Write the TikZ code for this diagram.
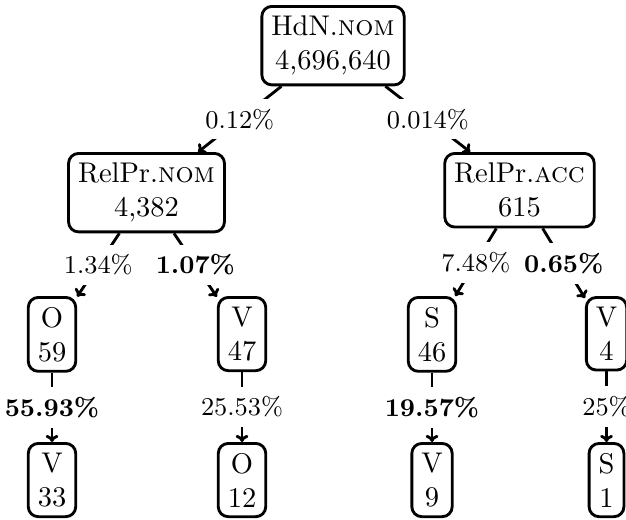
\documentclass[tikz,border=0pt]{standalone}
\usetikzlibrary{arrows.meta}
\begin{document}
\begin{tikzpicture}[x=0.351pt,y=-0.351pt,
  box/.style={draw,line width=1pt,rounded corners=3.5pt,align=center,inner sep=3.33pt,anchor=north},
  lbl/.style={fill=white,inner sep=3.5pt,font=\fontsize{9}{11}\selectfont},
  edge/.style={line width=1pt,-{To[length=2.5pt,width=4.5pt]}}]
\useasboundingbox (0,0) rectangle (626,519);
\node[box] (r) at (333,5) {HdN.\textsc{nom}\\4,696,640};
\node[box] (nom) at (146.5,152) {RelPr.\textsc{nom}\\4,382};
\node[box] (acc) at (519.5,152) {RelPr.\textsc{acc}\\615};
\node[box] (o1) at (52,296) {O\\59};
\node[box] (v1) at (242,296) {V\\47};
\node[box] (s1) at (432,296) {S\\46};
\node[box] (v2) at (606.5,296) {V\\4};
\node[box] (v3) at (52,442) {V\\33};
\node[box] (o2) at (242,442) {O\\12};
\node[box] (v4) at (432,442) {V\\9};
\node[box] (s2) at (606.5,442) {S\\1};
\draw[edge] (r) -- node[lbl]{0.12\%} (nom);
\draw[edge] (r) -- node[lbl]{0.014\%} (acc);
\draw[edge] (nom) -- node[lbl]{1.34\%} (o1);
\draw[edge] (nom) -- node[lbl]{\textbf{1.07\%}} (v1);
\draw[edge] (acc) -- node[lbl]{7.48\%} (s1);
\draw[edge] (acc) -- node[lbl]{\textbf{0.65\%}} (v2);
\draw[edge] (o1) -- node[lbl]{\textbf{55.93\%}} (v3);
\draw[edge] (v1) -- node[lbl]{25.53\%} (o2);
\draw[edge] (s1) -- node[lbl]{\textbf{19.57\%}} (v4);
\draw[edge] (v2) -- node[lbl]{25\%} (s2);
\end{tikzpicture}
\end{document}
